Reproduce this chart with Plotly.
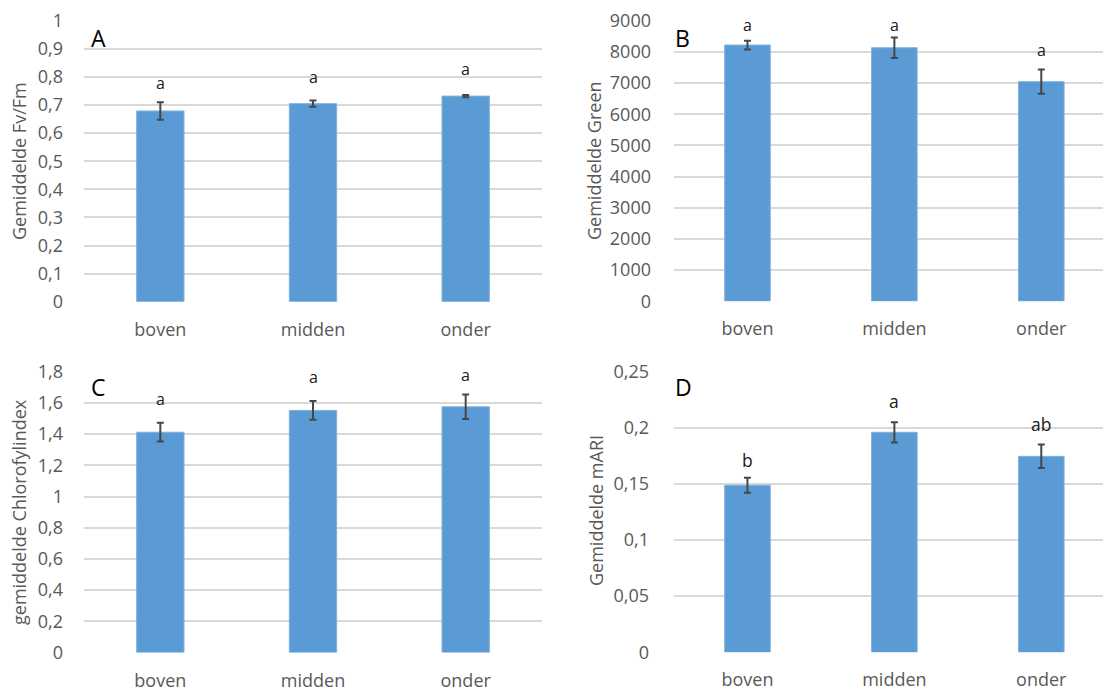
import plotly.graph_objects as go

# Categories (plant position)
positions = ["boven", "midden", "onder"]

# Panel A: Fv/Fm
fvfm_mean = [0.679, 0.705, 0.732]
fvfm_err = [0.031, 0.011, 0.004]
fvfm_letters = ["a", "a", "a"]
fvfm_letter_y = [0.779, 0.800, 0.827]

# Panel B: Green
green_mean = [8222, 8136, 7047]
green_err = [140, 330, 390]
green_letters = ["a", "a", "a"]
green_letter_y = [8872, 8872, 8062]

# Panel C: chlorophyll index
chl_mean = [1.412, 1.552, 1.575]
chl_err = [0.060, 0.060, 0.079]
chl_letters = ["a", "a", "a"]
chl_letter_y = [1.626, 1.767, 1.776]

# Panel D: mARI
mari_mean = [0.1488, 0.196, 0.1746]
mari_err = [0.0067, 0.009, 0.0105]
mari_letters = ["b", "a", "ab"]
mari_letter_y = [0.171, 0.2236, 0.2037]

# Tick values / labels
fvfm_ticks = [0, 0.1, 0.2, 0.3, 0.4, 0.5, 0.6, 0.7, 0.8, 0.9, 1]
fvfm_ticktext = ["0", "0,1", "0,2", "0,3", "0,4", "0,5", "0,6", "0,7", "0,8", "0,9", "1"]
green_ticks = [0, 1000, 2000, 3000, 4000, 5000, 6000, 7000, 8000, 9000]
green_ticktext = ["0", "1000", "2000", "3000", "4000", "5000", "6000", "7000", "8000", "9000"]
chl_ticks = [0, 0.2, 0.4, 0.6, 0.8, 1, 1.2, 1.4, 1.6, 1.8]
chl_ticktext = ["0", "0,2", "0,4", "0,6", "0,8", "1", "1,2", "1,4", "1,6", "1,8"]
mari_ticks = [0, 0.05, 0.1, 0.15, 0.2, 0.25]
mari_ticktext = ["0", "0,05", "0,1", "0,15", "0,2", "0,25"]

W, H = 1103, 691
BAR = "#5b9bd5"
ERR = "#474747"
GRID = "#d9d9d9"
TXT = "#595959"
FONT = "Open Sans"


def px_x(v):
    return v / W


def px_y(v):
    return 1 - v / H


panels = [
    dict(mean=fvfm_mean, err=fvfm_err, let=fvfm_letters, ly=fvfm_letter_y, tv=fvfm_ticks,
         tt=fvfm_ticktext, ymax=1.0, title="Gemiddelde Fv/Fm", tag="A", ax="",
         xdom=(84, 542), ydom=(20.8, 301.7), xr=(-0.5, 2.5), title_xy=(19, 161),
         tag_xy=(89, 38), lsize=16, stand=20),
    dict(mean=green_mean, err=green_err, let=green_letters, ly=green_letter_y, tv=green_ticks,
         tt=green_ticktext, ymax=9000, title="Gemiddelde Green", tag="B", ax="2",
         xdom=(674, 1103), ydom=(20.8, 301.2), xr=(-0.5, 2.42), title_xy=(594, 161),
         tag_xy=(673, 38), lsize=16, stand=22),
    dict(mean=chl_mean, err=chl_err, let=chl_letters, ly=chl_letter_y, tv=chl_ticks,
         tt=chl_ticktext, ymax=1.8, title="gemiddelde Chlorofylindex", tag="C", ax="3",
         xdom=(84, 542), ydom=(371.7, 652.5), xr=(-0.5, 2.5), title_xy=(19, 512),
         tag_xy=(89, 387), lsize=16, stand=20),
    dict(mean=mari_mean, err=mari_err, let=mari_letters, ly=mari_letter_y, tv=mari_ticks,
         tt=mari_ticktext, ymax=0.25, title="Gemiddelde mARI", tag="D", ax="4",
         xdom=(674, 1103), ydom=(371.7, 652.3), xr=(-0.5, 2.42), title_xy=(596, 511),
         tag_xy=(673, 387), lsize=17.5, stand=24),
]

fig = go.Figure()
annotations = []
layout_axes = {}

for p in panels:
    xa = "x" + p["ax"]
    ya = "y" + p["ax"]
    fig.add_trace(go.Bar(
        x=positions, y=p["mean"], xaxis=xa, yaxis=ya, width=0.31,
        marker=dict(color=BAR, line=dict(color="#7fb1e0", width=1)),
        error_y=dict(type="data", array=p["err"], color=ERR, thickness=2, width=3.5),
        showlegend=False, hoverinfo="skip",
    ))
    # significance letters above each bar
    for cat, lab, yv in zip(positions, p["let"], p["ly"]):
        annotations.append(dict(
            x=cat, y=yv, xref=xa, yref=ya, text=lab, showarrow=False,
            font=dict(family=FONT, size=p["lsize"], color="#1a1a1a"),
            xanchor="center", yanchor="middle",
        ))
    # panel tag
    annotations.append(dict(
        x=px_x(p["tag_xy"][0]), y=px_y(p["tag_xy"][1]), xref="paper", yref="paper",
        text=p["tag"], showarrow=False, xanchor="left", yanchor="middle",
        font=dict(family=FONT, size=23, color="#000000"),
    ))
    # y-axis title
    annotations.append(dict(
        x=px_x(p["title_xy"][0]), y=px_y(p["title_xy"][1]), xref="paper", yref="paper",
        text=p["title"], showarrow=False, textangle=-90, xanchor="center", yanchor="middle",
        font=dict(family=FONT, size=18, color=TXT),
    ))
    key = p["ax"]
    layout_axes["xaxis" + key] = dict(
        domain=[px_x(p["xdom"][0]), px_x(p["xdom"][1])], anchor=ya,
        range=list(p["xr"]), type="category", showgrid=False, zeroline=False,
        showline=False, ticks="", ticklabelstandoff=15, automargin=False,
        tickfont=dict(family=FONT, size=18, color=TXT), fixedrange=True,
    )
    layout_axes["yaxis" + key] = dict(
        domain=[px_y(p["ydom"][1]), px_y(p["ydom"][0])], anchor=xa,
        range=[0, p["ymax"]], tickvals=p["tv"], ticktext=p["tt"], showgrid=True,
        gridcolor=GRID, gridwidth=1.5, zeroline=False, showline=False, ticks="",
        ticklabelstandoff=p["stand"], automargin=False,
        tickfont=dict(family=FONT, size=18, color=TXT), fixedrange=True,
    )

fig.update_layout(
    width=W, height=H, margin=dict(l=0, r=0, t=0, b=0, pad=0, autoexpand=False),
    paper_bgcolor="white", plot_bgcolor="white",
    annotations=annotations, bargap=0.69, showlegend=False,
    **layout_axes,
)

fig.write_html("out.html", config={"displayModeBar": False})
